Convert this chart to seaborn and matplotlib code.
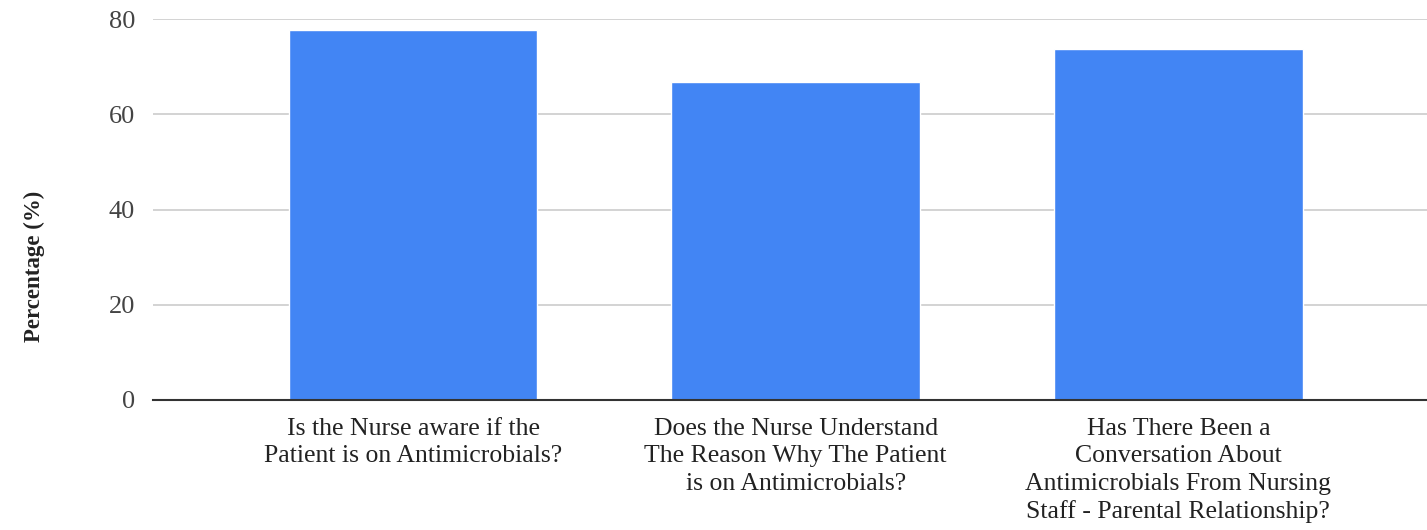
import matplotlib
matplotlib.use("Agg")
import matplotlib.pyplot as plt
import seaborn as sns
import pandas as pd

categories = [
    "Is the Nurse aware if the\nPatient is on Antimicrobials?",
    "Does the Nurse Understand\nThe Reason Why The Patient\nis on Antimicrobials?",
    "Has There Been a\nConversation About\nAntimicrobials From Nursing\nStaff - Parental Relationship?",
]
percentages = [77.7, 66.7, 73.6]
y_ticks = [0, 20, 40, 60, 80]
y_label = "Percentage (%)"

df = pd.DataFrame({"category": categories, "pct": percentages})

sns.set_theme(style="white")
plt.rcParams["font.family"] = ["Liberation Serif", "DejaVu Serif"]

fig = plt.figure(figsize=(14.27, 5.30), dpi=100)
ax = fig.add_axes([153 / 1427, 130 / 530, 1 - 153 / 1427, 381 / 530])

sns.barplot(data=df, x="category", y="pct", color="#4285F4", width=0.65,
            saturation=1, ax=ax, zorder=3)

ax.set_ylim(0, 80)
ax.set_xlim(-0.68, 2.65)
ax.set_yticks(y_ticks)
ax.set_yticklabels([str(t) for t in y_ticks])
ax.yaxis.grid(True, color="#cccccc", linewidth=1.2, zorder=0)
ax.set_axisbelow(True)
for s in ["top", "right", "left"]:
    ax.spines[s].set_visible(False)
ax.spines["bottom"].set_color("#333333")
ax.spines["bottom"].set_linewidth(1.5)
ax.spines["bottom"].set_zorder(4)

ax.tick_params(axis="y", length=0, pad=13, labelsize=19, labelcolor="#444444")
ax.tick_params(axis="x", length=0, pad=13, labelsize=18.5, labelcolor="#222222")
for lbl in ax.get_xticklabels():
    lbl.set_linespacing(1.31)

ax.set_xlabel("")
ax.set_ylabel(y_label, fontsize=16.5, fontweight="bold", color="#222222")
ax.yaxis.set_label_coords(-0.085, 0.352)

fig.savefig("out.png", dpi=100, facecolor="white")
